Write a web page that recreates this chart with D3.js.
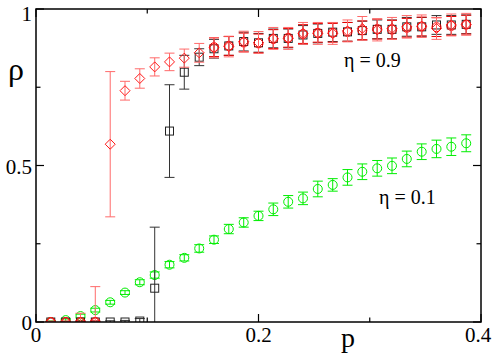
<!DOCTYPE html>
<html><head><meta charset="utf-8">
<script src="https://cdn.jsdelivr.net/npm/d3@7"></script>
<style>body{margin:0;background:#fff}svg{display:block}
svg text{font-family:"Liberation Serif","DejaVu Serif","Times New Roman",Times,serif}</style>
</head><body><div id="chart"></div>
<script>
const pValues = [0.0133,0.0267,0.0400,0.0533,0.0667,0.0800,0.0933,0.1067,0.1200,0.1333,0.1467,0.1600,0.1733,0.1867,0.2000,0.2133,0.2267,0.2400,0.2533,0.2667,0.2800,0.2933,0.3067,0.3200,0.3333,0.3467,0.3600,0.3733,0.3867];

// eta = 0.9, black squares
const squareVals = [0,0,0,0,0,0,0.003,0.108,0.610,0.798,0.846,0.873,0.882,0.896,0.892,0.906,0.906,0.917,0.922,0.926,0.927,0.931,0.935,0.935,0.943,0.943,0.949,0.949,0.951];
const squareErrs = [0.002,0.002,0.003,0.003,0.004,0.005,0.008,0.195,0.148,0.054,0.027,0.03,0.03,0.03,0.03,0.03,0.03,0.03,0.03,0.03,0.03,0.03,0.03,0.03,0.03,0.03,0.03,0.03,0.03];

// eta = 0.9, red diamonds (pale error bars)
const diamondVals = [0,0,0,0,0.568,0.739,0.778,0.815,0.831,0.843,0.860,0.876,0.880,0.896,0.893,0.906,0.906,0.922,0.922,0.922,0.930,0.938,0.933,0.938,0.943,0.945,0.938,0.949,0.951];
const diamondErrs = [0.002,0.003,0.028,0.113,0.232,0.030,0.031,0.029,0.028,0.029,0.030,0.032,0.033,0.033,0.035,0.035,0.035,0.035,0.035,0.035,0.035,0.038,0.035,0.035,0.036,0.036,0.035,0.035,0.035];

// eta = 0.9, red circles (subset of p values)
const circleRedIdx = [0,1,2,3,11,12,13,14,15,16,17,18,19,20,21,22,23,24,25,26,27,28];
const circleRedVals = [0,0,0,0,0.878,0.882,0.893,0.890,0.904,0.908,0.920,0.924,0.924,0.927,0.932,0.936,0.934,0.940,0.944,0.942,0.946,0.950];
const circleRedErrs = [0.002,0.002,0.003,0.003,0.03,0.03,0.03,0.03,0.03,0.03,0.03,0.03,0.03,0.03,0.03,0.032,0.03,0.03,0.03,0.03,0.03,0.03];

// eta = 0.1, green circles
const greenVals = [0.000,0.006,0.019,0.038,0.063,0.094,0.127,0.150,0.183,0.205,0.235,0.263,0.297,0.318,0.339,0.360,0.384,0.395,0.425,0.438,0.462,0.480,0.491,0.499,0.521,0.544,0.553,0.560,0.571];
const greenErrs = [0.003,0.004,0.006,0.006,0.006,0.006,0.008,0.010,0.010,0.010,0.012,0.012,0.015,0.015,0.015,0.020,0.020,0.020,0.025,0.020,0.025,0.025,0.025,0.025,0.025,0.025,0.028,0.028,0.027];

const xTickVals = [0, 0.2, 0.4];
const xTickLabels = ["0", "0.2", "0.4"];
const yTickVals = [0, 0.5, 1];
const yTickLabels = ["0", "0.5", "1"];
const xMinor = [0.1, 0.3];
const yMinor = [0.25, 0.75];

const W = 498, H = 358;
const x = d3.scaleLinear().domain([0, 0.4]).range([36, 481]);
const y = d3.scaleLinear().domain([0, 1]).range([322, 9]);

const svg = d3.select("#chart").append("svg").attr("width", W).attr("height", H);
svg.append("defs").append("clipPath").attr("id", "clip")
  .append("rect").attr("x", 36).attr("y", 9).attr("width", 445).attr("height", 313);

const plot = svg.append("g").attr("clip-path", "url(#clip)");

function series(data, opts) {
  const g = plot.append("g");
  const cap = 5;
  data.forEach(d => {
    const cx = x(d.p), cy = y(d.v);
    const y1 = y(d.v + d.e), y0 = y(d.v - d.e);
    g.append("line").attr("x1", cx).attr("x2", cx).attr("y1", y0).attr("y2", y1)
      .attr("stroke", opts.err).attr("stroke-width", 1);
    [y0, y1].forEach(yy => g.append("line").attr("x1", cx - cap).attr("x2", cx + cap)
      .attr("y1", yy).attr("y2", yy).attr("stroke", opts.err).attr("stroke-width", 1));
    if (opts.shape === "circle") {
      g.append("circle").attr("cx", cx).attr("cy", cy).attr("r", 4.5)
        .attr("fill", "none").attr("stroke", opts.color).attr("stroke-width", 1);
    } else if (opts.shape === "square") {
      g.append("rect").attr("x", cx - 4).attr("y", cy - 4).attr("width", 8).attr("height", 8)
        .attr("fill", "none").attr("stroke", opts.color).attr("stroke-width", 1);
    } else {
      const s = 5;
      g.append("path").attr("d", `M${cx},${cy - s}L${cx + s},${cy}L${cx},${cy + s}L${cx - s},${cy}Z`)
        .attr("fill", "none").attr("stroke", opts.color).attr("stroke-width", 1);
    }
  });
}

series(pValues.map((p, i) => ({p, v: greenVals[i], e: greenErrs[i]})), {shape: "circle", color: "#00ee00", err: "#00ee00"});
series(pValues.map((p, i) => ({p, v: squareVals[i], e: squareErrs[i]})), {shape: "square", color: "#222", err: "#333"});
series(circleRedIdx.map((k, i) => ({p: pValues[k], v: circleRedVals[i], e: circleRedErrs[i]})), {shape: "circle", color: "#ff0000", err: "#ee0000"});
series(pValues.map((p, i) => ({p, v: diamondVals[i], e: diamondErrs[i]})), {shape: "diamond", color: "#ff1a1a", err: "#ff6a6a"});

// frame
svg.append("rect").attr("x", 36).attr("y", 9).attr("width", 445).attr("height", 313)
  .attr("fill", "none").attr("stroke", "#000").attr("stroke-width", 1.5);

// ticks (inward, on all four sides)
const tk = svg.append("g").attr("stroke", "#000").attr("stroke-width", 1.2);
const addX = (vals, len) => vals.forEach(v => {
  tk.append("line").attr("x1", x(v)).attr("x2", x(v)).attr("y1", 322).attr("y2", 322 - len);
  tk.append("line").attr("x1", x(v)).attr("x2", x(v)).attr("y1", 9).attr("y2", 9 + len);
});
const addY = (vals, len) => vals.forEach(v => {
  tk.append("line").attr("y1", y(v)).attr("y2", y(v)).attr("x1", 36).attr("x2", 36 + len);
  tk.append("line").attr("y1", y(v)).attr("y2", y(v)).attr("x1", 481).attr("x2", 481 - len);
});
addX(xTickVals, 8); addX(xMinor, 4.5);
addY(yTickVals, 8); addY(yMinor, 4.5);

// tick labels
xTickVals.forEach((v, i) => svg.append("text").attr("x", Math.min(x(v), 478)).attr("y", 342)
  .attr("text-anchor", "middle").attr("font-size", 21).text(xTickLabels[i]));
yTickVals.forEach((v, i) => svg.append("text").attr("x", 32).attr("y", Math.max(y(v) + 8, 21))
  .attr("text-anchor", "end").attr("font-size", 21).text(yTickLabels[i]));

// axis titles
svg.append("text").attr("x", 348).attr("y", 347).attr("text-anchor", "middle").attr("font-size", 28).text("p");
svg.append("text").attr("x", 16).attr("y", 80).attr("text-anchor", "middle").attr("font-size", 32).text("ρ");

// annotations
svg.append("text").attr("x", 344).attr("y", 67).attr("font-size", 20).text("η = 0.9");
svg.append("text").attr("x", 379).attr("y", 204).attr("font-size", 20).text("η = 0.1");
</script></body></html>
